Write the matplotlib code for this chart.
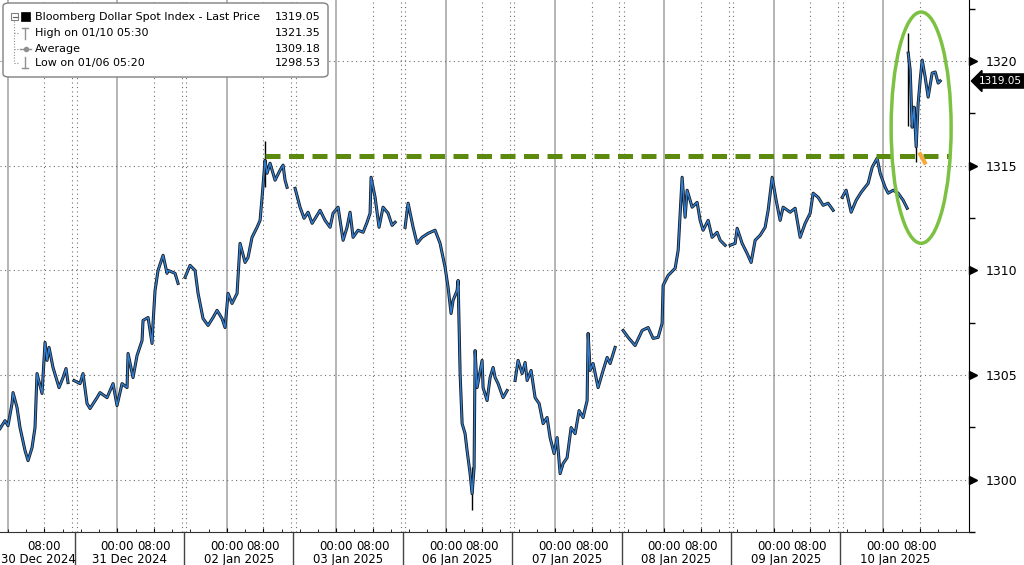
import numpy as np
import matplotlib.pyplot as plt
from matplotlib.patches import Ellipse, FancyBboxPatch, Rectangle
from matplotlib.lines import Line2D
from matplotlib.transforms import blended_transform_factory

# time axis in trading hours: 0 = 30 Dec 2024 00:00, each session day = 24h
dec30_t = [-1.76, -0.66, 0.0, 0.88, 1.10, 1.97, 2.63, 3.73, 4.39, 5.27, 5.92, 6.36, 7.46, 8.12, 8.56, 9.00, 9.87, 11.19, 12.07, 12.72, 13.16]
dec30_p = [1302.44, 1302.82, 1302.58, 1303.64, 1304.16, 1303.45, 1302.49, 1301.39, 1300.91, 1301.53, 1302.49, 1305.07, 1304.12, 1306.56, 1305.70, 1306.32, 1305.36, 1304.40, 1304.88, 1305.31, 1304.64]

dec31_t = [14.48, 15.80, 16.45, 17.33, 17.99, 19.53, 20.18, 21.72, 23.04, 23.91, 25.01, 26.11, 26.33, 27.42, 28.30, 29.40, 29.62, 30.72, 31.59, 31.81, 32.25, 32.91, 34.01, 34.88, 35.10, 36.64, 37.30]
dec31_p = [1304.74, 1304.59, 1305.07, 1303.64, 1303.40, 1303.92, 1304.16, 1303.92, 1304.59, 1303.54, 1304.59, 1304.40, 1306.03, 1304.88, 1305.93, 1306.65, 1307.61, 1307.75, 1306.51, 1307.47, 1309.04, 1310.00, 1310.72, 1309.86, 1310.00, 1309.86, 1309.38]

jan02_t = [38.83, 39.93, 41.03, 41.69, 42.78, 43.88, 44.98, 45.85, 46.95, 47.61, 48.27, 49.14, 50.24, 50.90, 52.00, 52.65, 53.53, 54.63, 55.29, 55.73, 56.38, 56.82, 57.48, 58.58, 59.68, 60.33, 60.77, 61.21]
jan02_p = [1309.67, 1310.24, 1310.00, 1308.90, 1307.70, 1307.37, 1307.75, 1308.09, 1307.70, 1307.27, 1308.90, 1308.42, 1308.90, 1311.29, 1310.38, 1310.62, 1311.58, 1312.06, 1312.39, 1313.49, 1315.26, 1314.64, 1315.12, 1314.31, 1314.79, 1315.03, 1314.31, 1313.97]

jan03_t = [62.97, 64.06, 64.94, 65.82, 66.70, 67.79, 68.45, 69.55, 70.65, 71.30, 72.40, 73.50, 74.37, 75.03, 75.69, 76.79, 77.89, 78.76, 79.42, 79.64, 80.52, 81.39, 82.27, 83.37, 84.25, 84.91]
jan03_p = [1313.92, 1313.02, 1312.49, 1312.78, 1312.25, 1312.63, 1312.87, 1312.39, 1312.06, 1312.73, 1313.02, 1311.44, 1312.06, 1312.78, 1311.58, 1311.92, 1311.82, 1312.30, 1312.73, 1314.45, 1313.49, 1312.06, 1313.02, 1312.73, 1312.15, 1312.30]

jan06_t = [87.10, 87.76, 88.86, 89.73, 90.83, 92.15, 93.68, 94.78, 95.88, 96.53, 97.19, 97.63, 98.51, 98.73, 99.17, 99.61, 100.26, 100.70, 101.36, 101.80, 102.24, 102.46, 102.90, 103.99, 104.21, 105.09, 105.75, 106.41, 106.85, 107.50, 108.60, 109.48]
jan06_p = [1312.06, 1313.21, 1312.06, 1311.29, 1311.58, 1311.77, 1311.92, 1311.29, 1310.14, 1309.19, 1307.94, 1308.57, 1309.04, 1309.52, 1305.07, 1302.68, 1302.20, 1301.39, 1300.29, 1299.33, 1300.58, 1306.17, 1304.40, 1305.70, 1304.40, 1303.78, 1304.88, 1305.36, 1304.88, 1304.59, 1303.92, 1304.26]

jan07_t = [111.23, 111.89, 112.77, 113.43, 113.87, 114.74, 115.62, 116.50, 117.38, 118.25, 118.91, 119.79, 120.45, 121.11, 121.76, 122.64, 123.52, 124.40, 125.27, 126.15, 127.03, 127.25, 127.69, 128.35, 129.44, 130.54, 131.42, 132.08, 133.17]
jan07_p = [1304.74, 1305.70, 1305.07, 1305.60, 1304.74, 1305.22, 1303.92, 1303.64, 1302.68, 1302.97, 1302.01, 1301.25, 1302.01, 1300.29, 1300.77, 1301.05, 1302.49, 1302.20, 1303.30, 1302.97, 1303.78, 1306.99, 1305.22, 1305.55, 1304.40, 1305.22, 1305.84, 1305.55, 1306.32]

jan08_t = [134.93, 136.03, 137.56, 139.10, 140.41, 141.51, 142.61, 143.48, 143.70, 144.80, 146.34, 147.00, 147.87, 148.53, 148.97, 150.07, 151.16, 151.82, 152.48, 153.58, 154.45, 155.55, 156.21, 157.31]
jan08_p = [1307.13, 1306.80, 1306.41, 1307.13, 1307.27, 1306.75, 1306.80, 1307.47, 1309.28, 1309.76, 1310.10, 1310.96, 1314.45, 1312.54, 1313.83, 1313.02, 1313.25, 1312.39, 1311.92, 1312.39, 1311.58, 1311.82, 1311.44, 1311.20]

jan09_t = [158.40, 159.50, 159.94, 161.04, 162.13, 163.01, 163.89, 164.99, 166.08, 166.74, 167.62, 168.50, 169.37, 170.03, 171.57, 172.66, 173.76, 174.86, 175.96, 176.61, 177.71, 178.81, 179.90, 181.00]
jan09_p = [1311.20, 1311.29, 1312.01, 1311.29, 1310.81, 1310.38, 1311.44, 1311.68, 1312.06, 1312.87, 1314.45, 1313.35, 1312.39, 1313.02, 1312.78, 1312.97, 1311.58, 1312.25, 1312.73, 1313.69, 1313.49, 1313.11, 1313.21, 1312.87]

jan10a_t = [182.98, 183.85, 184.95, 186.05, 187.14, 188.68, 189.56, 190.65, 191.31, 192.41, 193.07, 194.17, 195.26, 196.36, 197.24]
jan10a_p = [1313.49, 1313.83, 1312.78, 1313.35, 1313.73, 1314.16, 1314.93, 1315.36, 1314.64, 1313.97, 1313.69, 1313.83, 1313.69, 1313.35, 1312.97]

jan10b_t = [197.46, 197.90, 198.33, 198.77, 199.21, 199.65, 200.09, 200.53, 201.18, 201.84, 202.72, 203.38, 204.04, 204.48]
jan10b_p = [1320.38, 1319.57, 1316.84, 1317.80, 1315.90, 1317.99, 1319.09, 1320.05, 1319.24, 1318.28, 1319.43, 1319.48, 1318.95, 1319.05]

# candle wicks at the extremes
wick_t = [56.38, 101.80, 197.46, 199.21]
wick_lo = [1314.00, 1298.53, 1316.90, 1315.20]
wick_hi = [1316.20, 1300.60, 1321.35, 1317.00]

day_labels = ['30 Dec 2024', '31 Dec 2024', '02 Jan 2025', '03 Jan 2025', '06 Jan 2025',
              '07 Jan 2025', '08 Jan 2025', '09 Jan 2025', '10 Jan 2025']
y_ticks = [1300, 1305, 1310, 1315, 1320]
last_price = 1319.05
resistance = 1315.45

legend_rows = [('Bloomberg Dollar Spot Index - Last Price', '1319.05'),
               ('High on 01/10 05:30', '1321.35'),
               ('Average', '1309.18'),
               ('Low on 01/06 05:20', '1298.53')]

sessions = [(dec30_t, dec30_p), (dec31_t, dec31_p), (jan02_t, jan02_p), (jan03_t, jan03_p),
            (jan06_t, jan06_p), (jan07_t, jan07_p), (jan08_t, jan08_p), (jan09_t, jan09_p),
            (jan10a_t, jan10a_p), (jan10b_t, jan10b_p)]

W, H = 1024, 565
fig = plt.figure(figsize=(W / 100, H / 100), dpi=100)
ax = fig.add_axes([0, 33 / H, 969 / W, 532 / H])
ax.set_xlim(-1.76, 210.8)
ax.set_ylim(1297.56, 1322.92)

xblend = blended_transform_factory(ax.transData, ax.transAxes)
yblend = blended_transform_factory(ax.transAxes, ax.transData)

# grid: solid at midnight, dotted at 08:00 and at the session breaks
for k in range(9):
    ax.axvline(24 * k, color='#a8a8a8', lw=1.2, zorder=1)
    ax.axvline(24 * k + 8, color='#707070', lw=0.8, ls=(0, (1, 3)), zorder=1)
seps = [24 * k - 9.4 for k in range(1, 9)]
for s in seps:
    ax.axvline(s - 0.5, color='#707070', lw=0.8, ls=(0, (1, 3)), zorder=1)
    ax.axvline(s + 0.5, color='#707070', lw=0.8, ls=(0, (1, 3)), zorder=1)
for y in y_ticks:
    ax.axhline(y, color='#707070', lw=0.8, ls=(0, (1, 3)), zorder=1)

# price series
ax.vlines(wick_t, wick_lo, wick_hi, color='black', lw=1.0, zorder=3)
for t, p in sessions:
    ax.plot(t, p, color='#1a1a1a', lw=2.2, zorder=3)
    ax.plot(t, p, color='#2f7fd6', lw=1.0, zorder=4)

# annotations
ax.plot([56.4, 206.7], [resistance, resistance], color='#5c8a0e', lw=3.6, dashes=(3, 1.7), zorder=5)
ax.plot([200.1, 201.1], [1315.55, 1315.15], color='#f4a93a', lw=3, zorder=6)
ax.add_patch(Ellipse((200.3, 1316.82), 13.16, 11.05, fill=False, ec='#7cc142', lw=2.5, zorder=6))

# axes styling
for side in ['left', 'top']:
    ax.spines[side].set_visible(False)
ax.spines['right'].set_color('black')
ax.spines['bottom'].set_color('#333333')

ax.yaxis.tick_right()
ax.set_yticks(y_ticks)
ax.set_yticklabels([str(y) for y in y_ticks])
ax.set_yticks([1297.5 + 5 * i for i in range(6)], minor=True)
ax.tick_params(axis='y', which='major', length=0, pad=12, labelsize=9)
ax.tick_params(axis='y', which='minor', length=4, width=1, direction='out')
ax.plot([1 + 4 / 969] * len(y_ticks), y_ticks, ls='none', marker='>', ms=6,
        color='black', transform=yblend, clip_on=False, zorder=7)

ax.text(1 + 10 / 969, last_price, '%.2f' % last_price, transform=yblend, color='white',
        fontsize=7.5, va='center', ha='left',
        bbox=dict(boxstyle='larrow,pad=0.2', fc='black', ec='black'))

xt, xl = [8], ['08:00']
for k in range(1, 9):
    xt += [24 * k, 24 * k + 8]
    xl += ['00:00', '08:00']
ax.set_xticks(xt)
ax.set_xticklabels(xl)
ax.set_xticks(np.arange(0, 210, 4), minor=True)
ax.tick_params(axis='x', which='major', direction='in', length=3, pad=6, labelsize=8.5)
ax.tick_params(axis='x', which='minor', direction='in', length=2)

for s in seps:
    ax.plot([s, s], [0, -0.07], color='#444444', lw=1, transform=xblend, clip_on=False)
for k, lab in enumerate(day_labels):
    if k == 0:
        fig.text(1 / W, 1 - 553 / H, lab, ha='left', va='top', fontsize=8.5)
    else:
        ax.text(24 * k + 2.6, -0.039, lab, transform=xblend, ha='center', va='top', fontsize=8.5)

# legend box
def fline(xs, ys, **kw):
    fig.add_artist(Line2D([x / W for x in xs], [1 - y / H for y in ys], transform=fig.transFigure, **kw))

fig.add_artist(FancyBboxPatch((3 / W, 1 - 77 / H), 325 / W, 74 / H,
                              boxstyle='round,pad=0,rounding_size=0.006',
                              transform=fig.transFigure, fc='white', ec='#808080', lw=1))
fline([14, 14], [21, 63], color='#909090', lw=0.8, ls=(0, (1, 1.5)))
for yy in [33, 49, 63]:
    fline([14, 19], [yy, yy], color='#909090', lw=0.8, ls=(0, (1, 1.5)))
fig.add_artist(Rectangle((11 / W, 1 - 20 / H), 7 / W, 7 / H, transform=fig.transFigure,
                         fc='white', ec='#808080', lw=0.8))
fline([12.5, 16.5], [16.5, 16.5], color='#606060', lw=0.8)
fig.add_artist(Rectangle((21 / W, 1 - 21 / H), 9 / W, 9 / H, transform=fig.transFigure,
                         fc='black', ec='black', lw=0.5))
fline([25, 25], [28, 39], color='#909090', lw=1)
fline([22, 28], [28, 28], color='#909090', lw=1)
fline([20, 31], [49, 49], color='#909090', lw=1)
fig.add_artist(Line2D([25.5 / W], [1 - 49 / H], marker='o', ms=3, color='#909090', transform=fig.transFigure))
fline([25, 25], [57, 68], color='#909090', lw=1)
fline([22, 28], [68, 68], color='#909090', lw=1)
for (lab, val), yy in zip(legend_rows, [17, 33, 49, 63]):
    fig.text(35 / W, 1 - yy / H, lab, ha='left', va='center', fontsize=8)
    fig.text(321 / W, 1 - yy / H, val, ha='right', va='center', fontsize=8)

fig.savefig('out.png', dpi=100)
